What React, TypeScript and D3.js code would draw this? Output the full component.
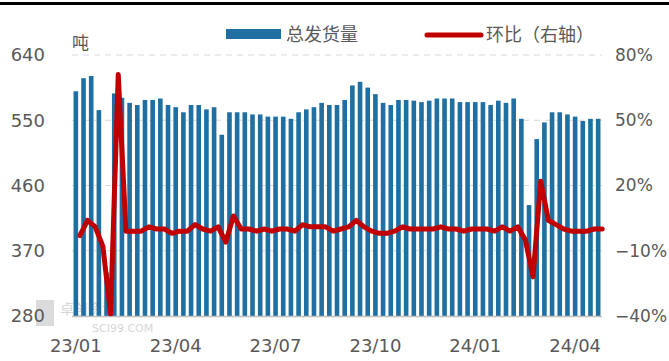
import React, { useRef, useEffect } from "react";
import * as d3 from "d3";

// weekly dates (Fridays), 2022-12-30 .. 2024-04-19
const weeks = d3.timeFriday.range(new Date(2022, 11, 30), new Date(2024, 3, 20));
const fmt = d3.timeFormat("%Y-%m-%d");
const categories = weeks.map((d) => fmt(d));

// 总发货量 (吨)
const volume = [
  590, 608, 611, 564, 340, 587, 581, 574, 571, 578,
  578, 580, 571, 568, 561, 571, 571, 565, 568, 530,
  561, 561, 561, 558, 558, 555, 555, 555, 552, 561,
  565, 568, 574, 571, 571, 578, 598, 603, 595, 586,
  574, 571, 578, 578, 577, 575, 577, 580, 580, 580,
  575, 575, 575, 575, 571, 577, 574, 580, 552, 433,
  524, 547, 561, 561, 558, 555, 549, 552, 552,
];

// 环比 (%)
const mom = [
  -3, 4, 1, -8, -39, 71, -1, -1, -1, 1,
  0, 0, -2, -1, -1, 2, 0, -1, 1, -6,
  6, 0, 0, -1, 0, -1, 0, 0, -1, 2,
  1, 1, 1, -1, 0, 1, 4, 1, -1, -2,
  -2, -1, 1, 0, 0, 0, 0, 1, 0, 0,
  -1, 0, 0, 0, -1, 1, -1, 1, -5, -22,
  22, 4, 2, 0, -1, -1, -1, 0, 0,
];

const leftTicks = [280, 370, 460, 550, 640];
const rightTicks = [-40, -10, 20, 50, 80];
const xTickIndex = [0, 13, 26, 39, 52, 65];
const xTickLabels = ["23/01", "23/04", "23/07", "23/10", "24/01", "24/04"];

const BLUE = "#1f6fa3";
const RED = "#c00000";
const GRAY = "#595959";
const NUM_FONT = "'DejaVu Sans', sans-serif";
const CJK_FONT = "'Noto Sans CJK SC', sans-serif";

export default function App() {
  const ref = useRef<SVGSVGElement>(null);

  const width = 669;
  const height = 361;
  const left = 72;
  const right = 602;
  const top = 55;
  const bottom = 316;
  // the line sits a little to the right of the bar centres in the source chart
  const lineShift = 4;

  useEffect(() => {
    const svg = d3.select(ref.current);
    svg.selectAll("*").remove();

    const x = d3
      .scaleBand<string>()
      .domain(categories)
      .range([left, right])
      .paddingInner(0.4)
      .paddingOuter(0.2);

    const y = d3.scaleLinear().domain([280, 640]).range([bottom, top]);
    const yr = d3.scaleLinear().domain([-40, 80]).range([bottom, top]);

    // top rule
    svg
      .append("rect")
      .attr("x", 0)
      .attr("y", 2)
      .attr("width", width)
      .attr("height", 3)
      .attr("fill", "#000");

    // grid
    svg
      .append("g")
      .selectAll("line")
      .data(leftTicks.slice(1))
      .join("line")
      .attr("x1", left)
      .attr("x2", right)
      .attr("y1", (d) => y(d))
      .attr("y2", (d) => y(d))
      .attr("stroke", "#d9d9d9")
      .attr("stroke-width", 1)
      .attr("stroke-dasharray", "6,5");

    // watermark
    const wm = svg.append("g").attr("opacity", 0.35);
    wm.append("rect")
      .attr("x", 36)
      .attr("y", 300)
      .attr("width", 18)
      .attr("height", 26)
      .attr("fill", "#9a9a9a");
    wm.append("text")
      .attr("x", 60)
      .attr("y", 314)
      .attr("font-family", CJK_FONT)
      .attr("font-size", 14)
      .attr("fill", "#8a8a8a")
      .text("卓创资讯");
    wm.append("text")
      .attr("x", 92)
      .attr("y", 332)
      .attr("font-family", NUM_FONT)
      .attr("font-size", 11)
      .attr("fill", "#8a8a8a")
      .text("SCI99.COM");

    // bars
    svg
      .append("g")
      .selectAll("rect")
      .data(volume)
      .join("rect")
      .attr("x", (d, i) => x(categories[i])!)
      .attr("width", x.bandwidth())
      .attr("y", (d) => y(d))
      .attr("height", (d) => bottom - y(d))
      .attr("fill", BLUE);

    // baseline
    svg
      .append("line")
      .attr("x1", left)
      .attr("x2", right)
      .attr("y1", bottom + 0.5)
      .attr("y2", bottom + 0.5)
      .attr("stroke", "#bfbfbf")
      .attr("stroke-width", 1.5);

    // line
    const line = d3
      .line<number>()
      .x((d, i) => x(categories[i])! + x.bandwidth() / 2 + lineShift)
      .y((d) => yr(d));

    svg
      .append("path")
      .datum(mom)
      .attr("d", line)
      .attr("fill", "none")
      .attr("stroke", RED)
      .attr("stroke-width", 5)
      .attr("stroke-linejoin", "round")
      .attr("stroke-linecap", "round");

    // axes
    const styleAxis = (size: number) => (g: d3.Selection<SVGGElement, unknown, null, undefined>) => {
      g.select(".domain").remove();
      g.selectAll("text")
        .attr("fill", GRAY)
        .attr("font-family", NUM_FONT)
        .attr("font-size", size);
    };

    svg
      .append("g")
      .attr("transform", `translate(${left},0)`)
      .call(d3.axisLeft(y).tickValues(leftTicks).tickSize(0).tickPadding(27))
      .call(styleAxis(18));

    svg
      .append("g")
      .attr("transform", `translate(${right},0)`)
      .call(
        d3
          .axisRight(yr)
          .tickValues(rightTicks)
          .tickSize(0)
          .tickPadding(13)
          .tickFormat((d) => `${(d as number) < 0 ? "\u2212" : ""}${Math.abs(d as number)}%`)
      )
      .call(styleAxis(17));

    svg
      .append("g")
      .attr("transform", `translate(0,${bottom})`)
      .call(
        d3
          .axisBottom(x)
          .tickValues(xTickIndex.map((i) => categories[i]))
          .tickFormat((d, i) => xTickLabels[i])
          .tickSize(0)
          .tickPadding(23)
      )
      .call(styleAxis(18));

    // unit
    svg
      .append("text")
      .attr("x", 72)
      .attr("y", 49)
      .attr("font-family", CJK_FONT)
      .attr("font-size", 17)
      .attr("fill", GRAY)
      .text("吨");

    // legend
    const lg = svg.append("g");
    lg.append("rect")
      .attr("x", 226)
      .attr("y", 29)
      .attr("width", 55)
      .attr("height", 10)
      .attr("fill", BLUE);
    lg.append("text")
      .attr("x", 286)
      .attr("y", 41)
      .attr("font-family", CJK_FONT)
      .attr("font-size", 18)
      .attr("fill", GRAY)
      .text("总发货量");
    lg.append("line")
      .attr("x1", 427)
      .attr("x2", 481)
      .attr("y1", 35)
      .attr("y2", 35)
      .attr("stroke", RED)
      .attr("stroke-width", 5)
      .attr("stroke-linecap", "round");
    lg.append("text")
      .attr("x", 486)
      .attr("y", 41)
      .attr("font-family", CJK_FONT)
      .attr("font-size", 18)
      .attr("fill", GRAY)
      .text("环比（右轴）");
  }, []);

  return (
    <svg
      ref={ref}
      width={width}
      height={height}
      style={{ position: "absolute", left: 0, top: 0, background: "#fff" }}
    ></svg>
  );
}
